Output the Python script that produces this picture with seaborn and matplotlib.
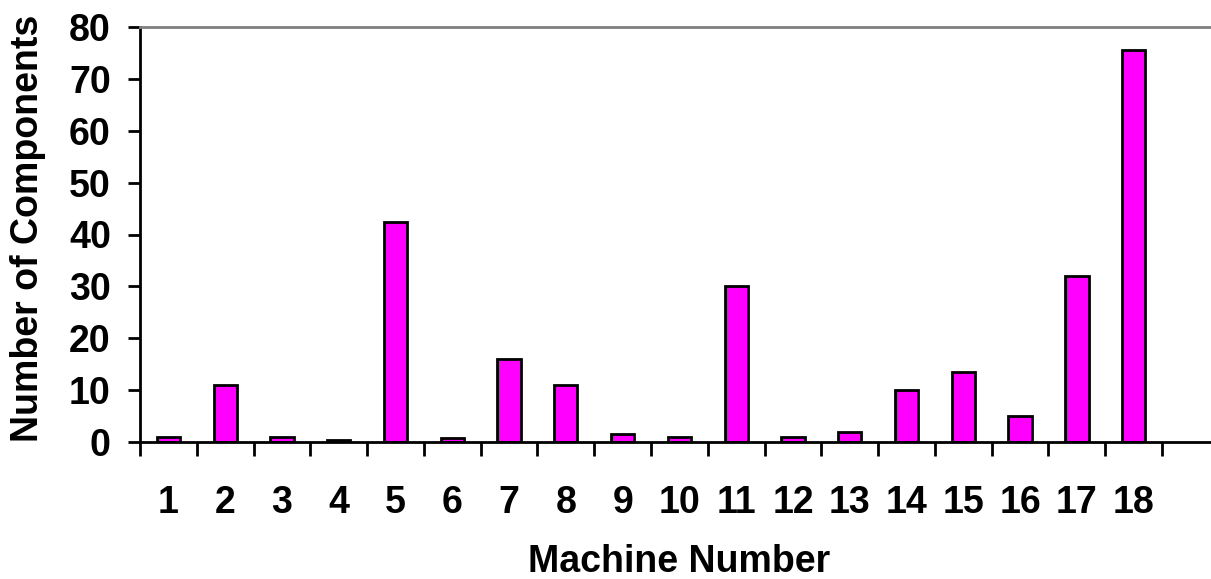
import numpy as np
import pandas as pd
import matplotlib
matplotlib.use("Agg")
import matplotlib.pyplot as plt
import seaborn as sns

# Chart data
machines = [str(i) for i in range(1, 19)]
components = [1, 11, 1, 0.3, 42.5, 0.7, 16, 11, 1.5, 1, 30, 1, 2, 10, 13.5, 5, 32, 75.5]
y_ticks = [0, 10, 20, 30, 40, 50, 60, 70, 80]

sns.set_theme(style="white")
plt.rcParams.update({
    'font.family': ['Liberation Sans', 'DejaVu Sans'],
    'font.weight': 'bold',
    'text.color': 'black',
    'axes.labelcolor': 'black',
    'xtick.color': 'black',
    'ytick.color': 'black',
})

df = pd.DataFrame({"Machine": machines, "Components": components})

fig = plt.figure(figsize=(12.11, 5.79), dpi=100)
ax = fig.add_axes([140 / 1211, 1 - 442 / 579, 1 - 140 / 1211, (442 - 27) / 579])

sns.barplot(data=df, x="Machine", y="Components", order=machines,
            color="#ff00ff", saturation=1, edgecolor="black", linewidth=2,
            width=0.41, ax=ax)

ax.set_xlim(-0.5, -0.5 + (1211 - 140) / 56.78)
ax.set_ylim(0, 80)
ax.set_yticks(y_ticks)
ax.set_yticklabels([str(t) for t in y_ticks], fontsize=27, fontweight='bold')
ax.set_xticks(range(len(machines)))
ax.set_xticklabels(machines, fontsize=27, fontweight='bold')
ax.set_xticks(np.arange(-0.5, len(machines), 1.0), minor=True)

# y ticks outside, x ticks only at category boundaries
ax.tick_params(axis='y', which='major', direction='out', length=9, width=2,
               left=True, pad=12)
ax.tick_params(axis='x', which='major', length=0, pad=31)
ax.tick_params(axis='x', which='minor', direction='out', length=10, width=2,
               bottom=True)

for side in ['left', 'bottom']:
    ax.spines[side].set_color('black')
    ax.spines[side].set_linewidth(2)
ax.spines['top'].set_color('#808080')
ax.spines['top'].set_linewidth(2)
ax.spines['right'].set_visible(False)

ax.set_xlabel("Machine Number", fontsize=27, fontweight='bold', va='center')
ax.set_ylabel("Number of Components", fontsize=27, fontweight='bold', va='center')
ax.xaxis.set_label_coords((679 - 140) / 1071, (442 - 562) / 415)
ax.yaxis.set_label_coords((28 - 140) / 1071, (442 - 228) / 415)

fig.savefig("out.png", dpi=100)
plt.close(fig)
